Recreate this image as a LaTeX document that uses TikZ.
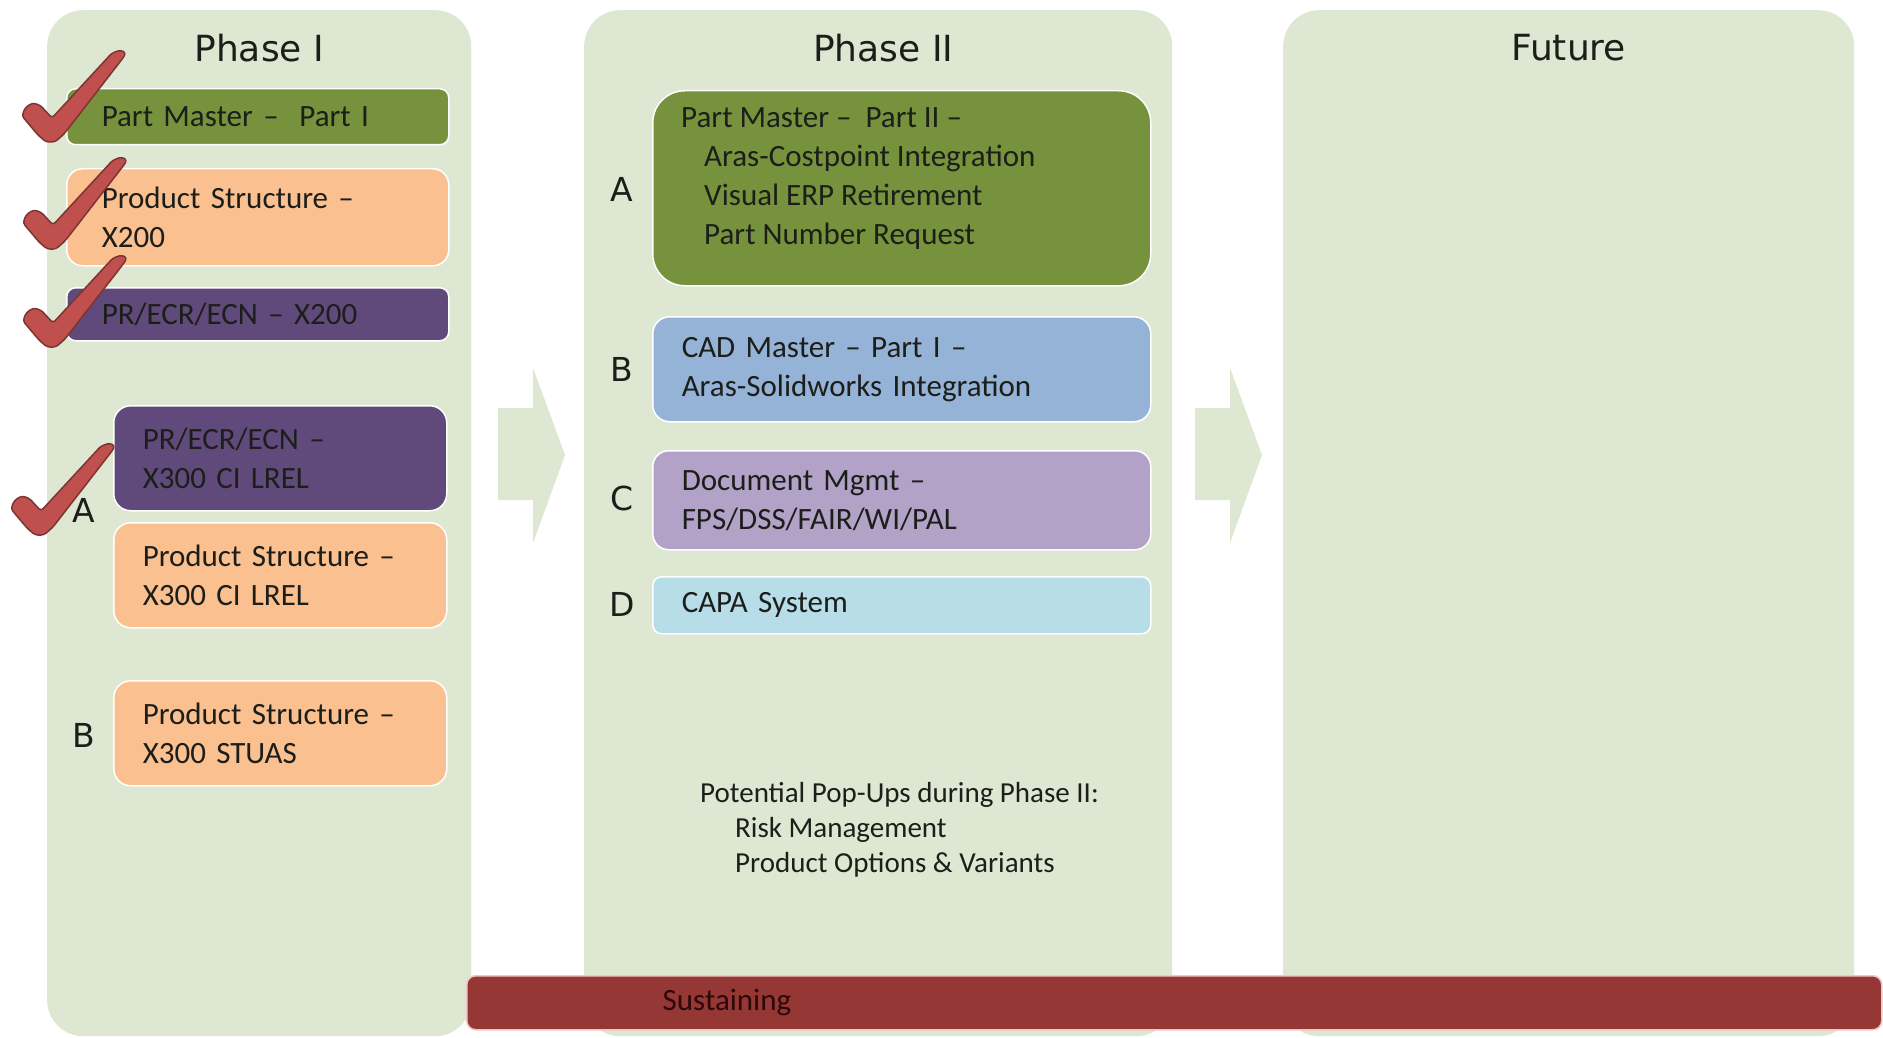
\documentclass[tikz,border=0pt]{standalone}
\usepackage{fontspec}
\setmainfont{Carlito}
\newfontfamily\headfont{DejaVu Sans}
\usepackage{xcolor}
\definecolor{PanelGreen}{RGB}{221,231,209}
\definecolor{OliveBox}{RGB}{118,146,60}
\definecolor{Peach}{RGB}{250,192,144}
\definecolor{DeepPurple}{RGB}{96,74,123}
\definecolor{SkyBlue}{RGB}{149,179,215}
\definecolor{Lavender}{RGB}{178,162,199}
\definecolor{PaleAqua}{RGB}{183,221,232}
\definecolor{BrickRed}{RGB}{149,55,53}
\definecolor{BarRim}{RGB}{238,200,195}
\definecolor{TickRed}{RGB}{192,80,77}
\definecolor{InkDark}{RGB}{28,30,26}
\definecolor{BarInk}{RGB}{45,8,8}

\begin{document}
\begin{tikzpicture}[x=1pt, y=-1pt, every node/.style={font=\fontsize{31}{39}\selectfont, text=InkDark}]
  \tikzstyle{panel}=[fill=PanelGreen, rounded corners=36pt, anchor=north west, inner sep=0pt]
  \tikzstyle{title}=[font=\headfont\fontsize{36}{40}\selectfont]
  \tikzstyle{tag}=[font=\headfont\fontsize{33}{38}\selectfont]
  \tikzstyle{box}=[draw=white, line width=1.5pt, rounded corners=9pt, anchor=north west,
                   align=left, inner ysep=0pt]
  \tikzstyle{boxtxt}=[anchor=north west, align=left, inner sep=0pt]
  \tikzstyle{tick}=[fill=TickRed, draw=TickRed!65!black, line width=1.5pt,
                    rounded corners=3pt, line join=round]
  \path[use as bounding box, fill=white] (0,0) rectangle (1883,1038);

  % columns
  \node[panel, minimum width=424pt, minimum height=1026pt] (ph1) at (47,10) {};
  \node[panel, minimum width=588pt, minimum height=1026pt] (ph2) at (584,10) {};
  \node[panel, minimum width=571pt, minimum height=1026pt] (fut) at (1283,10) {};
  \node[title] (ph1title) at ([yshift=-38pt]ph1.north) {Phase I};
  \node[title] (ph2title) at ([yshift=-38pt, xshift=5pt]ph2.north) {Phase II};
  \node[title] (futtitle) at ([yshift=-38pt]fut.north) {Future};

  % block arrows between the columns
  \foreach \ax in {498,1195}
    \fill[PanelGreen] (\ax,408) -- ++(35,0) -- ++(0,-40) -- ++(32,87) -- ++(-32,88)
      -- ++(0,-43) -- ++(-35,0) -- cycle;

  % Phase I
  \node[box, fill=OliveBox, minimum width=382pt, minimum height=56pt,
        inner xsep=35pt, text width=312pt] (pm1) at (66,88) {Part Master –\ \ Part I};
  \node[box, fill=Peach, rounded corners=16pt, minimum width=382pt, minimum height=97pt,
        inner xsep=35pt, text width=312pt] (ps1) at (66,168) {Product Structure –\\X200};
  \node[box, fill=DeepPurple, minimum width=382pt, minimum height=53pt,
        inner xsep=35pt, text width=312pt] (ecn1) at (66,287) {PR/ECR/ECN – X200};
  \node[box, fill=DeepPurple, rounded corners=17pt, minimum width=333pt, minimum height=105pt,
        inner xsep=29pt, text width=275pt] (ecn2) at (113,405) {PR/ECR/ECN –\\X300 CI LREL};
  \node[box, fill=Peach, rounded corners=17pt, minimum width=333pt, minimum height=105pt,
        inner xsep=29pt, text width=275pt] (ps2) at (113,522) {Product Structure –\\X300 CI LREL};
  \node[box, fill=Peach, rounded corners=17pt, minimum width=333pt, minimum height=105pt,
        inner xsep=29pt, text width=275pt] (ps3) at (113,680) {Product Structure –\\X300 STUAS};
  \node[tag] (ph1a) at (84,510) {A};
  \node[tag] (ph1b) at (84,735) {B};

  % done marks
  \foreach \cx/\cy in {22/50, 23/157, 23/255, 11/443}
    \draw[tick, shift={(\cx,\cy)}] (0,66) -- (3,58) -- (10,53) -- (18,55) -- (30,68)
      -- (90,3) -- (99,0) -- (104,3) -- (101,8) -- (42,84) -- (33,92) -- (24,92)
      -- (16,85) -- cycle;

  % Phase II
  \node[box, fill=OliveBox, rounded corners=32pt, minimum width=498pt,
        minimum height=195pt] (pm2) at (652,90) {};
  \node[boxtxt] (pm2txt) at ([xshift=29pt, yshift=-17pt]pm2.north west)
    {Part Master –\ \ Part II –\\\hspace*{23pt}Aras-Costpoint Integration\\
     \hspace*{23pt}Visual ERP Retirement\\\hspace*{23pt}Part Number Request};
  \node[box, fill=SkyBlue, rounded corners=17pt, minimum width=498pt, minimum height=105pt,
        inner xsep=29pt, text width=440pt] (cad) at (652,316)
    {CAD Master – Part I –\\Aras-Solidworks Integration};
  \node[box, fill=Lavender, rounded corners=16pt, minimum width=498pt, minimum height=99pt,
        inner xsep=29pt, text width=440pt] (docm) at (652,450)
    {Document Mgmt –\\FPS/DSS/FAIR/WI/PAL};
  \node[box, fill=PaleAqua, minimum width=498pt, minimum height=57pt,
        inner xsep=29pt, text width=440pt] (capa) at (652,576) {CAPA System};
  \node[tag] (ph2a) at (622,189) {A};
  \node[tag] (ph2b) at (622,369) {B};
  \node[tag] (ph2c) at (622,498) {C};
  \node[tag] (ph2d) at (622,604) {D};
  \node[boxtxt, font=\fontsize{29}{35}\selectfont] (popups) at (700,782)
    {Potential Pop-Ups during Phase II:\\\hspace*{35pt}Risk Management\\
     \hspace*{35pt}Product Options \& Variants};

  % sustaining bar
  \node[box, fill=BrickRed, draw=BarRim, minimum width=1415pt,
        minimum height=54pt] (sust) at (466,975) {};
  \node[text=BarInk] (susttxt) at ([xshift=261pt]sust.west) {Sustaining};
\end{tikzpicture}
\end{document}
